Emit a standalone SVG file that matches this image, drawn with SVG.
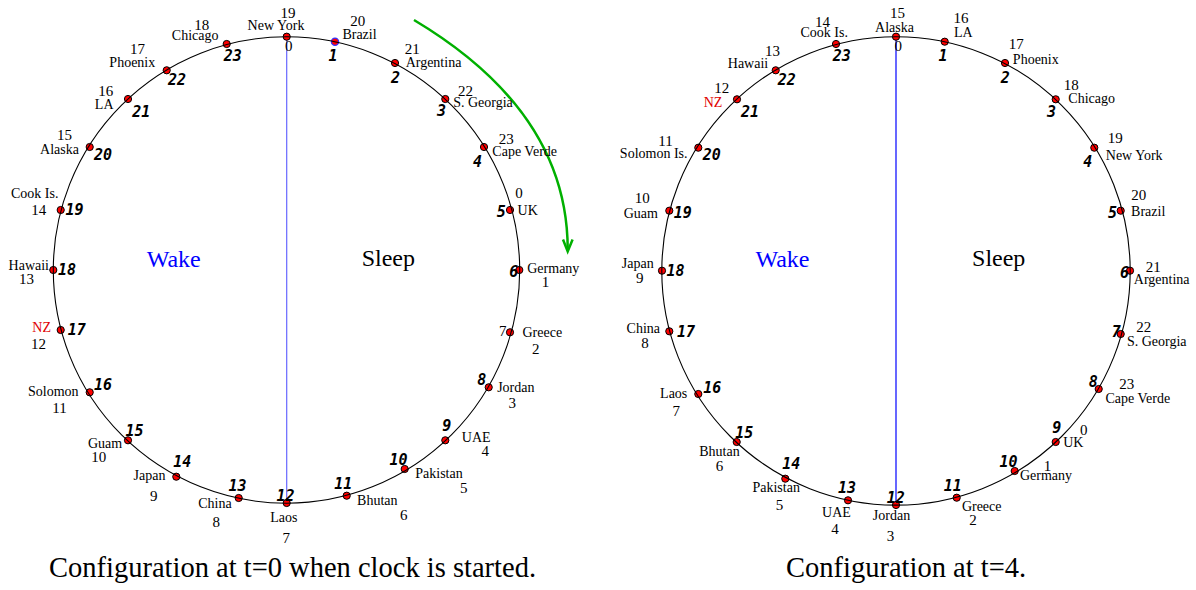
<svg xmlns="http://www.w3.org/2000/svg" width="1196" height="590" viewBox="0 0 1196 590" font-family="'Liberation Serif', 'DejaVu Serif', serif">
<style>
text{text-anchor:middle;fill:#000}
.c{font-size:14px}
.n{font-size:15px}
.p{font-family:'DejaVu Sans Mono',monospace;font-weight:bold;font-style:italic;font-size:15px}
.red{fill:#e00000}
.big{font-size:24px}
.cap{font-size:28.5px;text-anchor:start}
.dot{fill:#ff0000;stroke:#000;stroke-width:1}
.ring{fill:none;stroke:#000;stroke-width:1.1}
</style>
<defs>
<circle id="d" r="3.6" class="dot"/>
</defs>
<rect width="1196" height="590" fill="#fff"/>

<g id="connectors">
<line x1="286.7" y1="37" x2="286.7" y2="503" stroke="#6666ff" stroke-width="1.2"/>
<line x1="896" y1="37" x2="896" y2="505" stroke="#0000ff" stroke-width="1.2"/>
<path d="M414,20 Q568,112 567.7,250" fill="none" stroke="#00b000" stroke-width="2.5"/>
<polyline points="563,239.5 567.7,251.5 572.6,239.5" fill="none" stroke="#00b000" stroke-width="2.5"/>
</g>

<g id="left-clock">
<g id="left-dots">
<use href="#d" x="286.7" y="36.7"/>
<circle cx="335" cy="41.7" r="3.6" fill="#ff0000" stroke="#3333ff" stroke-width="1.3"/>
<use href="#d" x="395" y="63"/>
<use href="#d" x="445.3" y="99"/>
<use href="#d" x="484" y="147"/>
<use href="#d" x="510" y="210"/>
<use href="#d" x="519.3" y="270"/>
<use href="#d" x="510" y="332.3"/>
<use href="#d" x="488.7" y="387.3"/>
<use href="#d" x="445.3" y="440.3"/>
<use href="#d" x="404.7" y="469"/>
<use href="#d" x="346.7" y="495.7"/>
<use href="#d" x="286.7" y="503"/>
<use href="#d" x="238.7" y="498"/>
<use href="#d" x="176.3" y="476.7"/>
<use href="#d" x="128" y="440.3"/>
<use href="#d" x="89.7" y="392.3"/>
<use href="#d" x="60.7" y="330"/>
<use href="#d" x="53.3" y="270"/>
<use href="#d" x="60.7" y="210"/>
<use href="#d" x="89.7" y="147"/>
<use href="#d" x="128" y="99"/>
<use href="#d" x="166.7" y="70.3"/>
<use href="#d" x="226.7" y="44"/>
</g>
<circle class="ring" cx="286.5" cy="270" r="233.2"/>
<g id="left-labels">
<text class="n" x="288" y="18">19</text><text class="c" x="276" y="29.5">New York</text><text class="n" x="288.7" y="50.5">0</text>
<text class="n" x="357.7" y="25.7">20</text><text class="c" x="359.5" y="38.5">Brazil</text><text class="p" x="333" y="61">1</text>
<text class="n" x="412.2" y="54">21</text><text class="c" x="433.5" y="67">Argentina</text><text class="p" x="395.5" y="83.3">2</text>
<text class="n" x="465.5" y="95.7">22</text><text class="c" x="483" y="106.7">S. Georgia</text><text class="p" x="441.5" y="116">3</text>
<text class="n" x="506.2" y="144">23</text><text class="c" x="524.7" y="156">Cape Verde</text><text class="p" x="477.5" y="167.3">4</text>
<text class="n" x="519" y="198">0</text><text class="c" x="527.7" y="215">UK</text><text class="p" x="501.3" y="216.7">5</text>
<text class="c" x="553.3" y="272.5">Germany</text><text class="n" x="545.5" y="287.3">1</text><text class="p" x="513.7" y="276.7">6</text>
<text class="n" x="502.7" y="335.7">7</text><text class="c" x="542.3" y="336.7">Greece</text><text class="n" x="535.8" y="354">2</text>
<text class="p" x="481.8" y="385">8</text><text class="c" x="515.8" y="392">Jordan</text><text class="n" x="512.2" y="408.3">3</text>
<text class="p" x="446.8" y="430.7">9</text><text class="c" x="476.2" y="441.7">UAE</text><text class="n" x="485.3" y="456">4</text>
<text class="p" x="398.5" y="465">10</text><text class="c" x="439" y="478">Pakistan</text><text class="n" x="463.7" y="492.7">5</text>
<text class="p" x="343.2" y="489">11</text><text class="c" x="377.3" y="505">Bhutan</text><text class="n" x="403.8" y="520">6</text>
<text class="p" x="285.5" y="500.7">12</text><text class="c" x="283.8" y="521.7">Laos</text><text class="n" x="286.3" y="542.7">7</text>
<text class="p" x="237.5" y="490.7">13</text><text class="c" x="215" y="508">China</text><text class="n" x="216.3" y="527.3">8</text>
<text class="p" x="182.2" y="467.3">14</text><text class="c" x="149.5" y="480">Japan</text><text class="n" x="153.8" y="500.7">9</text>
<text class="p" x="134.5" y="435.7">15</text><text class="c" x="105" y="448.3">Guam</text><text class="n" x="98.7" y="461.7">10</text>
<text class="p" x="103" y="389.7">16</text><text class="c" x="53.3" y="396">Solomon</text><text class="n" x="59.5" y="413.3">11</text>
<text class="p" x="76.7" y="334.7">17</text><text class="c red" x="41.7" y="332">NZ</text><text class="n" x="38.5" y="349">12</text>
<text class="p" x="67" y="274.7">18</text><text class="c" x="28.8" y="270">Hawaii</text><text class="n" x="26.5" y="284">13</text>
<text class="p" x="74.5" y="215.3">19</text><text class="c" x="34.7" y="198">Cook Is.</text><text class="n" x="38.8" y="215">14</text>
<text class="p" x="103" y="160">20</text><text class="c" x="59.5" y="154.3">Alaska</text><text class="n" x="64.5" y="140">15</text>
<text class="p" x="141.2" y="116.7">21</text><text class="c" x="104.2" y="109.3">LA</text><text class="n" x="105.8" y="95.7">16</text>
<text class="p" x="177" y="85">22</text><text class="c" x="132.3" y="67.3">Phoenix</text><text class="n" x="137.5" y="54">17</text>
<text class="p" x="232.7" y="61">23</text><text class="c" x="195.2" y="40.3">Chicago</text><text class="n" x="201.8" y="30">18</text>
<text class="big" x="173.7" y="267.3" style="fill:#0000ff">Wake</text>
<text class="big" x="388.3" y="265.5">Sleep</text>
</g>
</g>

<g id="right-clock">
<g id="right-dots">
<use href="#d" x="896" y="36.7"/>
<use href="#d" x="944.7" y="41.7"/>
<use href="#d" x="1005" y="63"/>
<use href="#d" x="1055.7" y="99.3"/>
<use href="#d" x="1094.3" y="147.7"/>
<use href="#d" x="1120.7" y="210.7"/>
<use href="#d" x="1130" y="270.7"/>
<use href="#d" x="1120.7" y="334"/>
<use href="#d" x="1098.7" y="389"/>
<use href="#d" x="1055.7" y="442"/>
<use href="#d" x="1014.7" y="471"/>
<use href="#d" x="956.7" y="497.7"/>
<use href="#d" x="896" y="505"/>
<use href="#d" x="848" y="500.3"/>
<use href="#d" x="785.3" y="478.7"/>
<use href="#d" x="736.7" y="442"/>
<use href="#d" x="698.3" y="394"/>
<use href="#d" x="669.3" y="331.3"/>
<use href="#d" x="662" y="270.7"/>
<use href="#d" x="669.3" y="210.7"/>
<use href="#d" x="698.3" y="147.7"/>
<use href="#d" x="737" y="99.3"/>
<use href="#d" x="775.7" y="70.3"/>
<use href="#d" x="836" y="44"/>
</g>
<circle class="ring" cx="896" cy="270.9" r="234.2"/>
<g id="right-labels">
<text class="n" x="897.5" y="18.3">15</text><text class="c" x="894.5" y="31.5">Alaska</text><text class="n" x="898.3" y="50.7">0</text>
<text class="n" x="961" y="23">16</text><text class="c" x="963.3" y="37.3">LA</text><text class="p" x="943" y="61">1</text>
<text class="n" x="1016.2" y="49.3">17</text><text class="c" x="1035.8" y="64">Phoenix</text><text class="p" x="1005.3" y="83.3">2</text>
<text class="n" x="1071.3" y="90">18</text><text class="c" x="1091.7" y="103">Chicago</text><text class="p" x="1051.5" y="116.7">3</text>
<text class="n" x="1115.2" y="142.7">19</text><text class="c" x="1134.2" y="160">New York</text><text class="p" x="1087.8" y="167.3">4</text>
<text class="n" x="1138.7" y="200">20</text><text class="c" x="1148.2" y="216">Brazil</text><text class="p" x="1112.5" y="218">5</text>
<text class="n" x="1153.3" y="271.7">21</text><text class="c" x="1161.7" y="284">Argentina</text><text class="p" x="1124.5" y="278.3">6</text>
<text class="n" x="1143.8" y="331.7">22</text><text class="c" x="1156.7" y="346">S. Georgia</text><text class="p" x="1116.2" y="336.7">7</text>
<text class="n" x="1126.7" y="389">23</text><text class="c" x="1137.8" y="403">Cape Verde</text><text class="p" x="1093.3" y="386.7">8</text>
<text class="p" x="1056.8" y="433.3">9</text><text class="n" x="1083.8" y="434.7">0</text><text class="c" x="1073.3" y="446.7">UK</text>
<text class="p" x="1008.5" y="467.3">10</text><text class="n" x="1047.5" y="470.7">1</text><text class="c" x="1046" y="480.3">Germany</text>
<text class="p" x="952.8" y="491">11</text><text class="c" x="981.7" y="510.7">Greece</text><text class="n" x="973" y="525">2</text>
<text class="p" x="895.8" y="502.7">12</text><text class="c" x="891.5" y="519.7">Jordan</text><text class="n" x="890.5" y="541">3</text>
<text class="p" x="847" y="493.3">13</text><text class="c" x="836.5" y="517.3">UAE</text><text class="n" x="835" y="533.7">4</text>
<text class="p" x="791.2" y="469">14</text><text class="c" x="776.2" y="492">Pakistan</text><text class="n" x="779.5" y="510">5</text>
<text class="p" x="744.2" y="438.3">15</text><text class="c" x="719.5" y="456">Bhutan</text><text class="n" x="719.5" y="470.7">6</text>
<text class="p" x="712.2" y="392.7">16</text><text class="c" x="673.7" y="398">Laos</text><text class="n" x="676.3" y="416">7</text>
<text class="p" x="686" y="336.7">17</text><text class="c" x="643.3" y="332.7">China</text><text class="n" x="645" y="348.3">8</text>
<text class="p" x="675.5" y="276">18</text><text class="c" x="637.8" y="267.5">Japan</text><text class="n" x="639.7" y="283">9</text>
<text class="p" x="682.8" y="218">19</text><text class="c" x="640.8" y="218">Guam</text><text class="n" x="642.2" y="203.3">10</text>
<text class="p" x="711.7" y="160">20</text><text class="c" x="653.7" y="158">Solomon Is.</text><text class="n" x="665.5" y="146">11</text>
<text class="p" x="750" y="116.7">21</text><text class="c red" x="713" y="106.7">NZ</text><text class="n" x="721.7" y="93.3">12</text>
<text class="p" x="786.7" y="85">22</text><text class="c" x="748" y="68.3">Hawaii</text><text class="n" x="772.5" y="56">13</text>
<text class="p" x="841.7" y="61">23</text><text class="c" x="824.2" y="36.7">Cook Is.</text><text class="n" x="822.5" y="26.7">14</text>
<text class="big" x="782.5" y="267.3" style="fill:#0000ff">Wake</text>
<text class="big" x="998.7" y="266">Sleep</text>
</g>
</g>

<g id="captions">
<text class="cap" x="49" y="577">Configuration at t=0 when clock is started.</text>
<text class="cap" x="786" y="577">Configuration at t=4.</text>
</g>
</svg>
